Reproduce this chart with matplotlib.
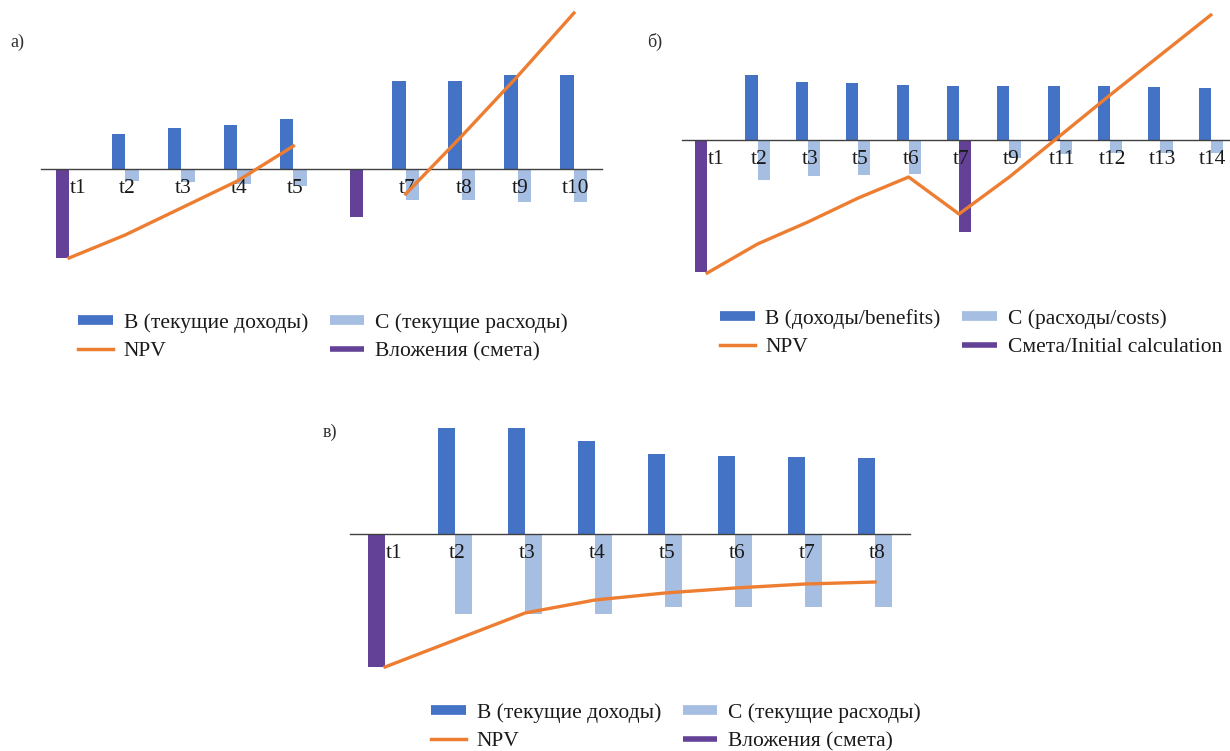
import numpy as np
import matplotlib.pyplot as plt
from matplotlib.lines import Line2D
from matplotlib.transforms import ScaledTranslation

plt.rcParams['font.family'] = ['Liberation Serif', 'DejaVu Serif']

# ---- а) ----
labels_a = ["t1", "t2", "t3", "t4", "t5", "", "t7", "t8", "t9", "t10"]
b_a = [0, 35, 41, 44, 50, 0, 88, 88, 94, 94]
c_a = [0, -12, -13, -15, -17, 0, -31, -31, -33, -33]
inv_a = [-89, 0, 0, 0, 0, -48, 0, 0, 0, 0]
npv_a = [-89, -66, -39, -12, 23, np.nan, -25, 33, 93, 156]

# ---- б) ----
labels_b = ["t1", "t2", "t3", "t5", "t6", "t7", "t9", "t11", "t12", "t13", "t14"]
b_b = [0, 65, 58, 57, 55, 54, 54, 54, 54, 53, 52]
c_b = [0, -40, -36, -35, -34, 0, -18, -14, -13, -13, -13]
inv_b = [-132, 0, 0, 0, 0, -92, 0, 0, 0, 0, 0]
npv_b = [-133, -104, -82, -58, -37, -74, -37, 4, 45, 85, 125]

# ---- в) ----
labels_c = ["t1", "t2", "t3", "t4", "t5", "t6", "t7", "t8"]
b_c = [0, 106, 106, 93, 80, 78, 77, 76]
c_c = [0, -80, -80, -80, -73, -73, -73, -73]
inv_c = [-133, 0, 0, 0, 0, 0, 0, 0]
npv_c = [-133, -106, -79, -66, -59, -54, -50, -48]

BLUE = "#4472C4"
LIGHT = "#A6BEE2"
PURPLE = "#634196"
ORANGE = "#ED7D31"

W, H = 1230, 751
fig = plt.figure(figsize=(12.3, 7.51), dpi=100)


def px_axes(left, right, top, bottom):
    return fig.add_axes([left / W, 1 - bottom / H, (right - left) / W, (bottom - top) / H])


def draw(ax, labels, b, c, inv, npv, ylim):
    x = np.arange(len(labels))
    w = 0.24
    ax.bar(x - w / 2, b, w, color=BLUE)
    ax.bar(x + w / 2, c, w, color=LIGHT)
    offs = np.where(x == 0, -w / 2, w / 2)
    ax.bar(x + offs, inv, w, color=PURPLE)
    ax.plot(x, npv, color=ORANGE, lw=2.4, clip_on=False, zorder=5)
    ax.set_xlim(-0.5, len(labels) - 0.5)
    ax.set_ylim(*ylim)
    for s in ["top", "right", "left"]:
        ax.spines[s].set_visible(False)
    ax.spines["bottom"].set_position(("data", 0))
    ax.spines["bottom"].set_color("#404040")
    ax.spines["bottom"].set_linewidth(1.0)
    ax.set_yticks([])
    ax.set_xticks(x, labels, fontsize=15.5, color="#1a1a1a")
    ax.tick_params(axis="x", length=0, pad=7)
    # подписи в оригинале чуть правее центра категории, первая - заметно
    for i, lab in enumerate(ax.get_xticklabels()):
        dx = 9 if i == 0 else 2
        lab.set_transform(lab.get_transform() + ScaledTranslation(dx / 100, 0, fig.dpi_scale_trans))
    ax.patch.set_visible(False)


def legend(names, cx, cy):
    handles = [Line2D([], [], color=BLUE, lw=7, solid_capstyle="butt"),
               Line2D([], [], color=ORANGE, lw=2.5),
               Line2D([], [], color=LIGHT, lw=7, solid_capstyle="butt"),
               Line2D([], [], color=PURPLE, lw=4, solid_capstyle="butt")]
    fig.legend(handles, [names[0], names[2], names[1], names[3]], ncol=2, loc="center",
               bbox_to_anchor=(cx / W, 1 - cy / H), frameon=False, fontsize=15.5,
               handlelength=1.6, handletextpad=0.5, columnspacing=1.0, labelspacing=0.4,
               labelcolor="#1a1a1a")


ax_a = px_axes(41, 602, 10, 262)
draw(ax_a, labels_a, b_a, c_a, inv_a, npv_a, (-93, 159))
ax_b = px_axes(682, 1236, 10, 276)
draw(ax_b, labels_b, b_b, c_b, inv_b, npv_b, (-136, 130))
ax_c = px_axes(350, 910, 420, 670)
draw(ax_c, labels_c, b_c, c_c, inv_c, npv_c, (-136, 114))

fig.text(10 / W, 1 - 42 / H, "а)", fontsize=13, va="center", color="#303030")
fig.text(647 / W, 1 - 42 / H, "б)", fontsize=13, va="center", color="#303030")
fig.text(323 / W, 1 - 432 / H, "в)", fontsize=13, va="center", color="#303030")

legend(["В (текущие доходы)", "С (текущие расходы)", "NPV", "Вложения (смета)"], 323, 337)
legend(["В (доходы/benefits)", "С (расходы/costs)", "NPV", "Смета/Initial calculation"], 971, 333)
legend(["В (текущие доходы)", "С (текущие расходы)", "NPV", "Вложения (смета)"], 676, 727)

fig.savefig("out.png", dpi=100)
